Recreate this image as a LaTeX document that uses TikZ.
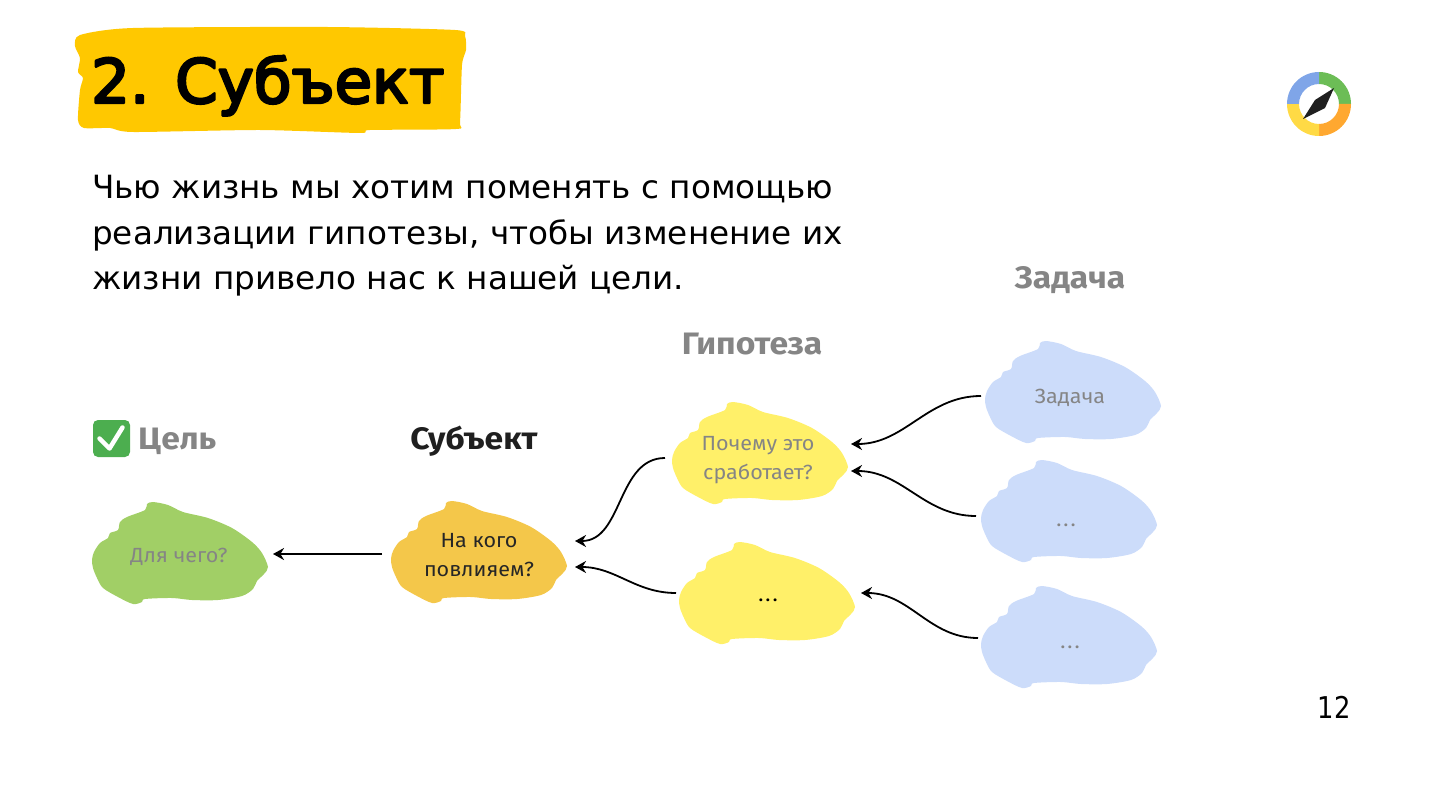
\documentclass[tikz,border=0pt]{standalone}
\usepackage{fontspec}
\usetikzlibrary{arrows.meta}
\setmainfont[FakeStretch=1.05]{Fira Sans}
\newfontfamily\headingfont[FakeStretch=1.085]{Fira Sans}
\newfontfamily\slidefont[FakeStretch=1.02]{DejaVu Sans}
\newfontfamily\titlefont[FakeBold=4]{DejaVu Sans}
\newfontfamily\numberfont[FakeStretch=0.86]{DejaVu Sans}
\definecolor{titleyellow}{HTML}{FFC800}
\definecolor{labelgrey}{HTML}{858585}
\definecolor{tickgreen}{HTML}{4CAE4F}
\definecolor{blobgreen}{HTML}{A1CF66}
\definecolor{blobamber}{HTML}{F4C74A}
\definecolor{blobyellow}{HTML}{FFF069}
\definecolor{blobblue}{HTML}{CCDCFA}
\definecolor{ringblue}{HTML}{7FA5E8}
\definecolor{ringgreen}{HTML}{6CBD56}
\definecolor{ringorange}{HTML}{FFA830}
\definecolor{ringyellow}{HTML}{FFDA45}

\begin{document}
\begin{tikzpicture}[
  x=1pt,
  y=-1pt,
  line join=round,
  blob/.pic={
    \fill[pic actions] plot[smooth cycle,tension=0.5] coordinates {
      (-88,7) (-86,-1) (-80,-10) (-72,-15) (-70,-20) (-62,-23) (-60,-31) (-53,-36)
      (-35,-43) (-33,-49) (-27,-51) (-12,-48) (3,-41) (28,-35) (52,-25) (72,-11)
      (82,0) (88,14) (84,21) (77,28) (73,36) (62,43) (38,47) (12,47) (-8,45)
      (-35,46) (-38,49) (-47,51) (-62,44) (-77,35) (-83,25) (-87,15)};
  },
  blobbox/.style={minimum width=176pt,minimum height=102pt,inner sep=0pt,outer sep=0pt},
  blobtext/.style={font=\fontsize{20.5}{29}\selectfont,align=center,inner sep=0pt,text=labelgrey},
  heading/.style={font=\headingfont\fontsize{31}{34}\selectfont\bfseries,inner sep=0pt,text=labelgrey},
  link/.style={draw=black,line width=1.8pt,-{Stealth[length=11pt,width=12pt]}}
]
  \useasboundingbox (0,0) rectangle (1440,810);

  % Brush stroke behind the title, then the two text blocks of the slide.
  \fill[titleyellow] plot[smooth cycle,tension=0.4] coordinates {
    (75,46) (80,35) (133,28) (327,27) (455,30) (465,36) (466,50) (462,65) (460,122) (456,129)
    (370,130) (360,133) (260,130) (133,132) (110,128) (84,128) (78,120) (80,90) (83,78)
    (78,72) (80,58)};
  \node[font=\titlefont\fontsize{61}{61}\selectfont,anchor=base west,inner sep=0pt] (title) at (91,103) {2. Субъект};
  \node[font=\slidefont\fontsize{32}{45.5}\selectfont,anchor=north west,align=left,inner sep=0pt] (intro) at (92,175)
    {Чью жизнь мы хотим поменять с помощью\\реализации гипотезы, чтобы изменение их\\жизни привело нас к нашей цели.};
  \node[font=\numberfont\fontsize{30}{30}\selectfont,anchor=base east,inner sep=0pt] (pageno) at (1351,718) {12};

  % Compass logo: four ring sectors and the needle.
  \coordinate (logo) at (1319,104);
  \foreach \col/\from in {ringgreen/0,ringorange/90,ringyellow/180,ringblue/270} {
    \fill[\col] (logo) ++(\from:32) arc[start angle=\from,delta angle=-90,radius=32]
      -- ++(\from-90:-12) arc[start angle=\from-90,delta angle=90,radius=20] -- cycle;
  }
  \fill[black!88] (1303,119) -- (1315,100) -- (1334,88) -- (1325,108) -- cycle;

  % Blobs, far left to far right; each one gets an empty box for the arrows.
  \foreach \id/\pos/\col in {goal/{180,553}/blobgreen,subject/{479,552}/blobamber,
      hypa/{760,453}/blobyellow,hypb/{767,593}/blobyellow,
      taska/{1073,392}/blobblue,taskb/{1069,511}/blobblue,taskc/{1069,637}/blobblue} {
    \pic[fill=\col] at (\pos) {blob};
    \node[blobbox] (\id) at (\pos) {};
  }

  % Texts inside the blobs.
  \node[blobtext] (goaltext) at (179,557) {Для чего?};
  \node[blobtext,text=black!85] (subjecttext) at (479,555) {На кого\\повлияем?};
  \node[blobtext] (hypatext) at (758,460) {Почему это\\сработает?};
  \node[blobtext,text=black] (hypbtext) at (768,600) {.\kern2pt.\kern2pt.};
  \node[blobtext] (taskatext) at (1070,398) {Задача};
  \node[blobtext,text=labelgrey] (taskbtext) at (1066,525) {.\kern2pt.\kern2pt.};
  \node[blobtext,text=labelgrey] (taskctext) at (1070,647) {.\kern2pt.\kern2pt.};

  % Column headings.
  \node[heading] (taskhead) at (1070,280) {Задача};
  \node[heading] (hyphead) at (752,344) {Гипотеза};
  \node[heading,text=black!88] (subjecthead) at (474,441) {Субъект};
  \node[heading,anchor=west] (goalhead) at (138,441) {Цель};
  \node[fill=tickgreen,rounded corners=5pt,minimum size=37pt,inner sep=0pt] (tick) at (111.5,438.5) {};
  \draw[white,line width=4.5pt,line cap=round] ([shift={(-12,0)}]tick.center) -- ([shift={(-2,10)}]tick.center) -- ([shift={(11,-11)}]tick.center);

  % Arrows run right to left, from the sources to the blob they feed.
  \draw[link] ([shift={(-9,2)}]subject.west) -- ([shift={(5,1)}]goal.east);
  \draw[link] ([shift={(-7,5)}]hypa.west) to[out=180,in=0] ([shift={(8,-11)}]subject.east);
  \draw[link] ([shift={(-3,0)}]hypb.west) to[out=180,in=0] ([shift={(8,15)}]subject.east);
  \draw[link] ([shift={(-4,4)}]taska.west) to[out=180,in=0] ([shift={(3,-9)}]hypa.east);
  \draw[link] ([shift={(-5,5)}]taskb.west) to[out=180,in=0] ([shift={(3,18)}]hypa.east);
  \draw[link] ([shift={(-3,1)}]taskc.west) to[out=180,in=0] ([shift={(6,0)}]hypb.east);
\end{tikzpicture}
\end{document}
